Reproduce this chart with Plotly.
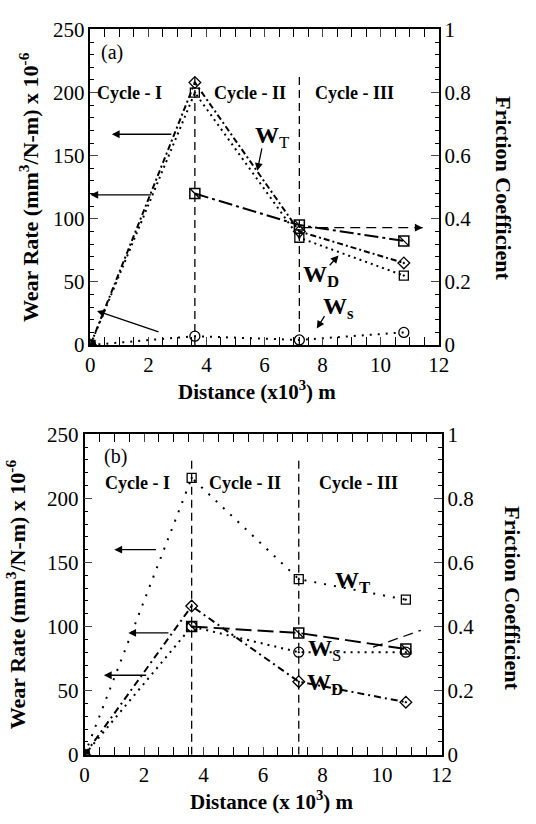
import plotly.graph_objects as go

# ---------------- data ----------------
dist = [0, 3.6, 7.2, 10.8]
dist_f = [3.6, 7.2, 10.8]

# panel (a)
a_WT = [0, 200, 85, 55]
a_WD = [0, 208, 90, 65]
a_WS = [0, 7, 4, 10]
a_mu = [0.48, 0.38, 0.33]

# panel (b)
b_WT = [0, 216, 137, 121]
b_WD = [0, 116, 57, 41]
b_WS = [0, 100, 80, 80]
b_mu = [0.40, 0.38, 0.33]

cycle_labels = ["Cycle - I", "Cycle - II", "Cycle - III"]
x_ticks = [0, 2, 4, 6, 8, 10, 12]
y_ticks = [0, 50, 100, 150, 200, 250]
y2_ticks = [0, 0.2, 0.4, 0.6, 0.8, 1]

W, H = 536, 824
FONT = "Liberation Serif"

def px(x):
    return x / W

def py(y):
    return 1 - y / H

fig = go.Figure()

def add_panel(xa, ya, ya2, WT, WD, WS, mu, styles):
    fig.add_trace(go.Scatter(x=dist, y=WT, xaxis=xa, yaxis=ya, mode="lines+markers",
                             line=dict(color="black", width=2, dash=styles["WT"]),
                             marker=dict(symbol="square-open-dot", size=9, color="black",
                                         line=dict(width=1.3)), showlegend=False))
    fig.add_trace(go.Scatter(x=dist, y=WD, xaxis=xa, yaxis=ya, mode="lines+markers",
                             line=dict(color="black", width=2, dash=styles["WD"]),
                             marker=dict(symbol="diamond-open-dot", size=9, color="black",
                                         line=dict(width=1.3)), showlegend=False))
    fig.add_trace(go.Scatter(x=dist, y=WS, xaxis=xa, yaxis=ya, mode="lines+markers",
                             line=dict(color="black", width=2, dash=styles["WS"]),
                             marker=dict(symbol=styles["WSsym"], size=10, color="black",
                                         line=dict(width=1.3)), showlegend=False))
    fig.add_trace(go.Scatter(x=dist_f, y=mu, xaxis=xa, yaxis=ya2, mode="lines+markers",
                             line=dict(color="black", width=2, dash=styles["mu"]),
                             marker=dict(symbol="square-open", size=10, color="black",
                                         line=dict(width=1.5)), showlegend=False))
    fig.add_trace(go.Scatter(x=dist_f, y=mu, xaxis=xa, yaxis=ya2, mode="markers",
                             marker=dict(symbol="line-nw", size=9, color="black",
                                         line=dict(width=1.3, color="black")), showlegend=False))
    # origin filled marker
    fig.add_trace(go.Scatter(x=[dist[0]], y=[WT[0]], xaxis=xa, yaxis=ya, mode="markers",
                             marker=dict(symbol="square", size=10, color="black"),
                             showlegend=False))

add_panel("x", "y", "y2", a_WT, a_WD, a_WS, a_mu,
          dict(WT="2px,4px", WD="6px,3px,2px,3px", WS="2px,6px", WSsym="circle-open",
               mu="14px,4px,3px,4px"))
add_panel("x2", "y3", "y4", b_WT, b_WD, b_WS, b_mu,
          dict(WT="2px,8px", WD="7px,4px,2px,4px", WS="2px,5px", WSsym="circle-open-dot",
               mu="16px,6px"))

tickfont = dict(family=FONT, size=21, color="black")

def xaxis(domain, anchor):
    return dict(domain=domain, anchor=anchor, range=[0, 12], tickvals=x_ticks,
                ticks="inside", ticklen=8, tickwidth=1.3, showline=True, linewidth=1.5,
                linecolor="black", mirror="allticks", showgrid=False, zeroline=False,
                tickfont=tickfont,
                minor=dict(dtick=0.5, ticks="inside", ticklen=4, tickwidth=1.1, tickcolor="black"))

def yaxis(domain, anchor):
    return dict(domain=domain, anchor=anchor, range=[0, 250], tickvals=y_ticks,
                ticks="inside", ticklen=8, tickwidth=1.3, showline=True, linewidth=1.5,
                linecolor="black", showgrid=False, zeroline=False, tickfont=tickfont,
                minor=dict(dtick=10, ticks="inside", ticklen=4, tickwidth=1.1, tickcolor="black"))

def yaxis2(over, anchor):
    return dict(overlaying=over, anchor=anchor, side="right", range=[0, 1], tickvals=y2_ticks,
                ticktext=["0", "0.2", "0.4", "0.6", "0.8", "1"],
                ticks="inside", ticklen=8, tickwidth=1.3, showline=True, linewidth=1.5,
                linecolor="black", showgrid=False, zeroline=False, tickfont=tickfont,
                minor=dict(dtick=0.04, ticks="inside", ticklen=4, tickwidth=1.1, tickcolor="black"))

fig.update_layout(
    width=W, height=H, margin=dict(l=0, r=0, t=0, b=0),
    paper_bgcolor="white", plot_bgcolor="white",
    font=dict(family=FONT, color="black"),
    xaxis=xaxis([px(88), px(447)], "y"),
    yaxis=yaxis([py(343), py(18)], "x"),
    yaxis2=yaxis2("y", "x"),
    xaxis2=xaxis([px(82), px(450)], "y3"),
    yaxis3=yaxis([py(765), py(435)], "x2"),
    yaxis4=yaxis2("y3", "x2"),
)

shapes = []
ann = []

def vline(xref, yref, x, y1):
    shapes.append(dict(type="line", xref=xref, yref=yref, x0=x, x1=x, y0=0, y1=y1,
                       line=dict(color="black", width=1.3, dash="8px,5px")))

vline("x", "y", dist[1], 216)
vline("x", "y", dist[2], 216)
vline("x2", "y3", dist[1], 231)
vline("x2", "y3", dist[2], 231)

def arrow(xref, yref, x0, y0, x1, y1):
    ann.append(dict(xref=xref, yref=yref, axref=xref, ayref=yref, x=x1, y=y1, ax=x0, ay=y0,
                    text="", showarrow=True, arrowhead=2, arrowsize=1.2, arrowwidth=1.3,
                    arrowcolor="black"))

def dashed_arrow(xref, yref, x0, y0, x1, y1):
    shapes.append(dict(type="line", xref=xref, yref=yref, x0=x0, y0=y0, x1=x1, y1=y1,
                       line=dict(color="black", width=1.3, dash="10px,6px")))
    dx, dy = x1 - x0, y1 - y0
    arrow(xref, yref, x1 - dx * 0.04, y1 - dy * 0.04, x1, y1)

def text(xref, yref, x, y, s, size=16, **kw):
    kw.setdefault("xanchor", "center")
    kw.setdefault("yanchor", "middle")
    ann.append(dict(xref=xref, yref=yref, x=x, y=y, text=s, showarrow=False,
                    font=dict(family=FONT, size=size, color="black"), **kw))

# panel (a) decorations
arrow("x", "y", 2.84, 167, 0.74, 167)
arrow("x", "y", 2.14, 119, 0.0, 119)
arrow("x", "y", 2.4, 10, 0.23, 27)
dashed_arrow("x", "y", 7.3, 93, 11.45, 93)
arrow("x", "y", 5.92, 157, 5.75, 138)
arrow("x", "y", 8.2, 62, 8.55, 71)
arrow("x", "y", 8.1, 24, 7.8, 13)
text("x", "y", 0.3, 232, "(a)", size=20, xanchor="left")
text("x", "y", 1.35, 200, "<b>" + cycle_labels[0] + "</b>", size=18)
text("x", "y", 5.5, 200, "<b>" + cycle_labels[1] + "</b>", size=18)
text("x", "y", 9.1, 200, "<b>" + cycle_labels[2] + "</b>", size=18)
text("x", "y", 5.62, 165, "<b>W</b><sub>T</sub>", size=24, xanchor="left")
text("x", "y", 7.25, 55, "<b>W<sub>D</sub></b>", size=24, xanchor="left")
text("x", "y", 7.95, 29, "<b>W<sub>s</sub></b>", size=24, xanchor="left")

# panel (b) decorations
arrow("x2", "y3", 2.45, 160, 1.0, 160)
arrow("x2", "y3", 2.87, 95, 1.47, 95)
arrow("x2", "y3", 2.12, 62, 0.65, 62)
dashed_arrow("x2", "y3", 9.7, 84, 11.3, 97)
text("x2", "y3", 0.6, 233, "(b)", size=20, xanchor="left")
text("x2", "y3", 1.78, 212, "<b>" + cycle_labels[0] + "</b>", size=18)
text("x2", "y3", 5.4, 212, "<b>" + cycle_labels[1] + "</b>", size=18)
text("x2", "y3", 9.2, 212, "<b>" + cycle_labels[2] + "</b>", size=18)
text("x2", "y3", 8.35, 135, "<b>W<sub>T</sub></b>", size=24, xanchor="left")
text("x2", "y3", 7.45, 82, "<b>W</b><sub>S</sub>", size=24, xanchor="left")
text("x2", "y3", 7.4, 55, "<b>W<sub>D</sub></b>", size=24, xanchor="left")

# axis titles
ytitle = "<b>Wear Rate (mm<sup>3</sup>/N-m) x 10<sup>-6</sup></b>"
text("paper", "paper", px(24), py(180), ytitle, size=22, textangle=-90)
text("paper", "paper", px(514), py(182), "<b>Friction Coefficient</b>", size=22, textangle=90)
text("paper", "paper", px(260), py(390), "<b>Distance (x10<sup>3</sup>) m</b>", size=21)
text("paper", "paper", px(11), py(600), ytitle, size=22, textangle=-90)
text("paper", "paper", px(523), py(604), "<b>Friction Coefficient</b>", size=22, textangle=90)
text("paper", "paper", px(275), py(812), "<b>Distance (x 10<sup>3</sup>) m</b>", size=21)

fig.update_layout(shapes=shapes, annotations=ann)
fig.write_html("out.html")
